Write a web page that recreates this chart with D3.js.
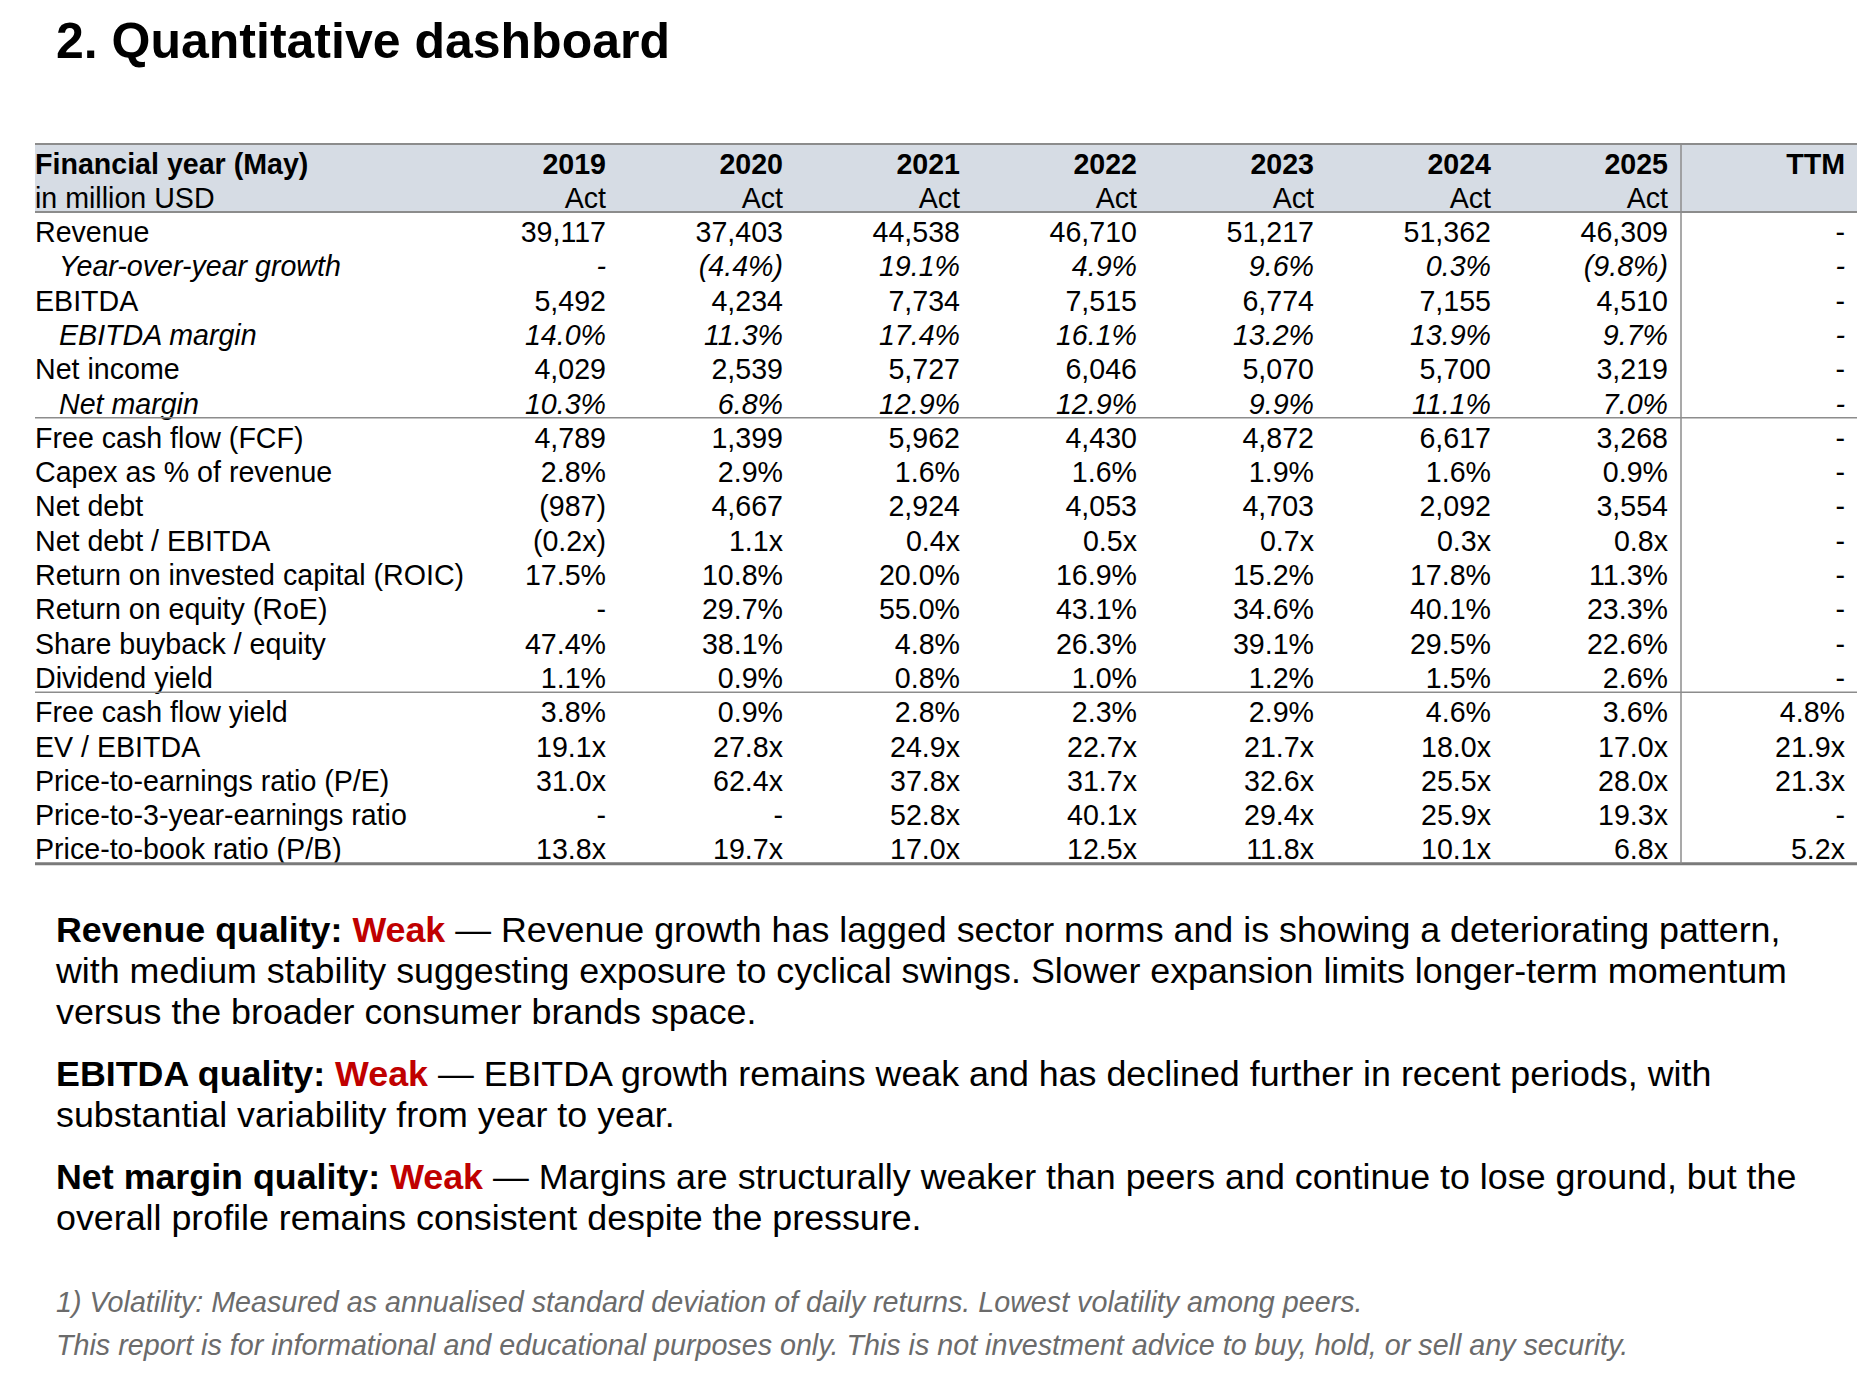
<!DOCTYPE html>
<html>
<head>
<meta charset="utf-8">
<script src="https://cdn.jsdelivr.net/npm/d3@7"></script>
<style>
  html, body { margin: 0; padding: 0; background: #fff; }
  svg { display: block; font-family: "Liberation Sans", Arial, sans-serif; }
</style>
</head>
<body>
<div id="chart"></div>
<script>
// columns
var columns = ["2019", "2020", "2021", "2022", "2023", "2024", "2025", "TTM"];
var subHeads = ["Act", "Act", "Act", "Act", "Act", "Act", "Act", ""];

// row labels, one per line of the table
var rowLabels = [
  "Revenue", "Year-over-year growth", "EBITDA", "EBITDA margin", "Net income", "Net margin",
  "Free cash flow (FCF)", "Capex as % of revenue", "Net debt", "Net debt / EBITDA",
  "Return on invested capital (ROIC)", "Return on equity (RoE)", "Share buyback / equity", "Dividend yield",
  "Free cash flow yield", "EV / EBITDA", "Price-to-earnings ratio (P/E)", "Price-to-3-year-earnings ratio",
  "Price-to-book ratio (P/B)"
];
// how each row is printed: n = number, p = percent, x = multiple
var rowFormats = ["n", "p", "n", "p", "n", "p", "n", "p", "n", "x", "p", "p", "p", "p", "p", "x", "x", "x", "x"];
var italicRows = [1, 3, 5];
var ruleAfter = [5, 13];

// values, 2019..2025 then TTM (null = "-")
var revenue      = [39117, 37403, 44538, 46710, 51217, 51362, 46309, null];
var revGrowth    = [null, -4.4, 19.1, 4.9, 9.6, 0.3, -9.8, null];
var ebitda       = [5492, 4234, 7734, 7515, 6774, 7155, 4510, null];
var ebitdaMargin = [14.0, 11.3, 17.4, 16.1, 13.2, 13.9, 9.7, null];
var netIncome    = [4029, 2539, 5727, 6046, 5070, 5700, 3219, null];
var netMargin    = [10.3, 6.8, 12.9, 12.9, 9.9, 11.1, 7.0, null];
var fcf          = [4789, 1399, 5962, 4430, 4872, 6617, 3268, null];
var capexPct     = [2.8, 2.9, 1.6, 1.6, 1.9, 1.6, 0.9, null];
var netDebt      = [-987, 4667, 2924, 4053, 4703, 2092, 3554, null];
var debtEbitda   = [-0.2, 1.1, 0.4, 0.5, 0.7, 0.3, 0.8, null];
var roic         = [17.5, 10.8, 20.0, 16.9, 15.2, 17.8, 11.3, null];
var roe          = [null, 29.7, 55.0, 43.1, 34.6, 40.1, 23.3, null];
var buyback      = [47.4, 38.1, 4.8, 26.3, 39.1, 29.5, 22.6, null];
var divYield     = [1.1, 0.9, 0.8, 1.0, 1.2, 1.5, 2.6, null];
var fcfYield     = [3.8, 0.9, 2.8, 2.3, 2.9, 4.6, 3.6, 4.8];
var evEbitda     = [19.1, 27.8, 24.9, 22.7, 21.7, 18.0, 17.0, 21.9];
var peRatio      = [31.0, 62.4, 37.8, 31.7, 32.6, 25.5, 28.0, 21.3];
var pe3Ratio     = [null, null, 52.8, 40.1, 29.4, 25.9, 19.3, null];
var pbRatio      = [13.8, 19.7, 17.0, 12.5, 11.8, 10.1, 6.8, 5.2];

var rowValues = [revenue, revGrowth, ebitda, ebitdaMargin, netIncome, netMargin, fcf, capexPct,
  netDebt, debtEbitda, roic, roe, buyback, divYield, fcfYield, evEbitda, peRatio, pe3Ratio, pbRatio];

// commentary
var notes = [
  { head: "Revenue quality: ", grade: "Weak", lines: [
    " \u2014 Revenue growth has lagged sector norms and is showing a deteriorating pattern,",
    "with medium stability suggesting exposure to cyclical swings. Slower expansion limits longer-term momentum",
    "versus the broader consumer brands space."] },
  { head: "EBITDA quality: ", grade: "Weak", lines: [
    " \u2014 EBITDA growth remains weak and has declined further in recent periods, with",
    "substantial variability from year to year."] },
  { head: "Net margin quality: ", grade: "Weak", lines: [
    " \u2014 Margins are structurally weaker than peers and continue to lose ground, but the",
    "overall profile remains consistent despite the pressure."] }
];
var footnotes = [
  "1) Volatility: Measured as annualised standard deviation of daily returns. Lowest volatility among peers.",
  "This report is for informational and educational purposes only. This is not investment advice to buy, hold, or sell any security."
];

var width = 1874, height = 1388;
var svg = d3.select("#chart").append("svg")
  .attr("width", width)
  .attr("height", height);

var tableLeft = 35, tableRight = 1857;
var headTop = 144, rowH = 34.3;
var bodyTop = headTop + 2 * 34;
var lineColor = "#8c8c8c";
var bodySize = 28.6;

var x = d3.scalePoint().domain(columns).range([606, 1845]);
var y = d3.scaleBand().domain(d3.range(rowLabels.length))
  .range([bodyTop, bodyTop + rowLabels.length * rowH]).padding(0);
var bodyBottom = bodyTop + rowLabels.length * rowH;

function fmt(v, kind) {
  if (v == null) return "-";
  var a = Math.abs(v), s;
  if (kind === "n") s = d3.format(",.0f")(a);
  else if (kind === "p") s = d3.format(".1f")(a) + "%";
  else s = d3.format(".1f")(a) + "x";
  return v < 0 ? "(" + s + ")" : s;
}

// title
svg.append("text")
  .attr("x", 56).attr("y", 58)
  .attr("font-size", 50).attr("font-weight", "bold")
  .text("2. Quantitative dashboard");

// header band
svg.append("rect")
  .attr("x", tableLeft).attr("y", headTop)
  .attr("width", tableRight - tableLeft).attr("height", bodyTop - headTop)
  .attr("fill", "#d6dce4");

var head = svg.append("g").attr("font-size", bodySize);
head.append("text").attr("x", tableLeft).attr("y", headTop + 30)
  .attr("font-weight", "bold").text("Financial year (May)");
head.append("text").attr("x", tableLeft).attr("y", headTop + 64)
  .text("in million USD");
head.selectAll(".yr").data(columns).join("text")
  .attr("class", "yr")
  .attr("x", function(d) { return x(d); })
  .attr("y", headTop + 30)
  .attr("text-anchor", "end").attr("font-weight", "bold")
  .text(function(d) { return d; });
head.selectAll(".sub").data(subHeads).join("text")
  .attr("class", "sub")
  .attr("x", function(d, i) { return x(columns[i]); })
  .attr("y", headTop + 64)
  .attr("text-anchor", "end")
  .text(function(d) { return d; });

// body rows
var rows = svg.append("g").attr("font-size", bodySize)
  .selectAll("g").data(rowLabels).join("g")
  .attr("transform", function(d, i) { return "translate(0," + (y(i) + 30) + ")"; })
  .attr("font-style", function(d, i) { return italicRows.indexOf(i) >= 0 ? "italic" : null; });

rows.append("text")
  .attr("x", function(d, i) { return italicRows.indexOf(i) >= 0 ? tableLeft + 24 : tableLeft; })
  .text(function(d) { return d; });

rows.selectAll(".v")
  .data(function(d, i) { return rowValues[i].map(function(v, j) { return { v: v, col: columns[j], kind: rowFormats[i] }; }); })
  .join("text")
  .attr("class", "v")
  .attr("x", function(d) { return x(d.col); })
  .attr("text-anchor", "end")
  .text(function(d) { return fmt(d.v, d.kind); });

// rules
var rules = svg.append("g").attr("stroke", lineColor);
rules.append("line").attr("x1", tableLeft).attr("x2", tableRight)
  .attr("y1", headTop).attr("y2", headTop).attr("stroke-width", 2);
rules.append("line").attr("x1", tableLeft).attr("x2", tableRight)
  .attr("y1", bodyTop).attr("y2", bodyTop).attr("stroke-width", 2);
rules.selectAll(".sep").data(ruleAfter).join("line")
  .attr("class", "sep")
  .attr("x1", tableLeft).attr("x2", tableRight)
  .attr("y1", function(d) { return y(d) + y.bandwidth(); })
  .attr("y2", function(d) { return y(d) + y.bandwidth(); })
  .attr("stroke-width", 1.5);
rules.append("line").attr("x1", tableLeft).attr("x2", tableRight)
  .attr("y1", bodyBottom).attr("y2", bodyBottom)
  .attr("stroke-width", 3).attr("stroke", "#7a7a7a");
rules.append("line").attr("x1", 1681).attr("x2", 1681)
  .attr("y1", headTop).attr("y2", bodyBottom).attr("stroke-width", 1.5);

// commentary
var lineH = 41, paraGap = 21;
var ty = 942;
var notesG = svg.append("g").attr("font-size", 35.8);
notes.forEach(function(n) {
  n.lines.forEach(function(l, k) {
    var t = notesG.append("text").attr("x", 56).attr("y", ty);
    if (k === 0) {
      t.append("tspan").attr("font-weight", "bold").text(n.head);
      t.append("tspan").attr("font-weight", "bold").attr("fill", "#c00000").text(n.grade);
    }
    t.append("tspan").text(l);
    ty += lineH;
  });
  ty += paraGap;
});

// footnotes
svg.append("g").attr("font-size", 28.7).attr("font-style", "italic").attr("fill", "#6b6b6b")
  .selectAll("text").data(footnotes).join("text")
  .attr("x", 56)
  .attr("y", function(d, i) { return 1312 + i * 43; })
  .text(function(d) { return d; });
</script>
</body>
</html>
